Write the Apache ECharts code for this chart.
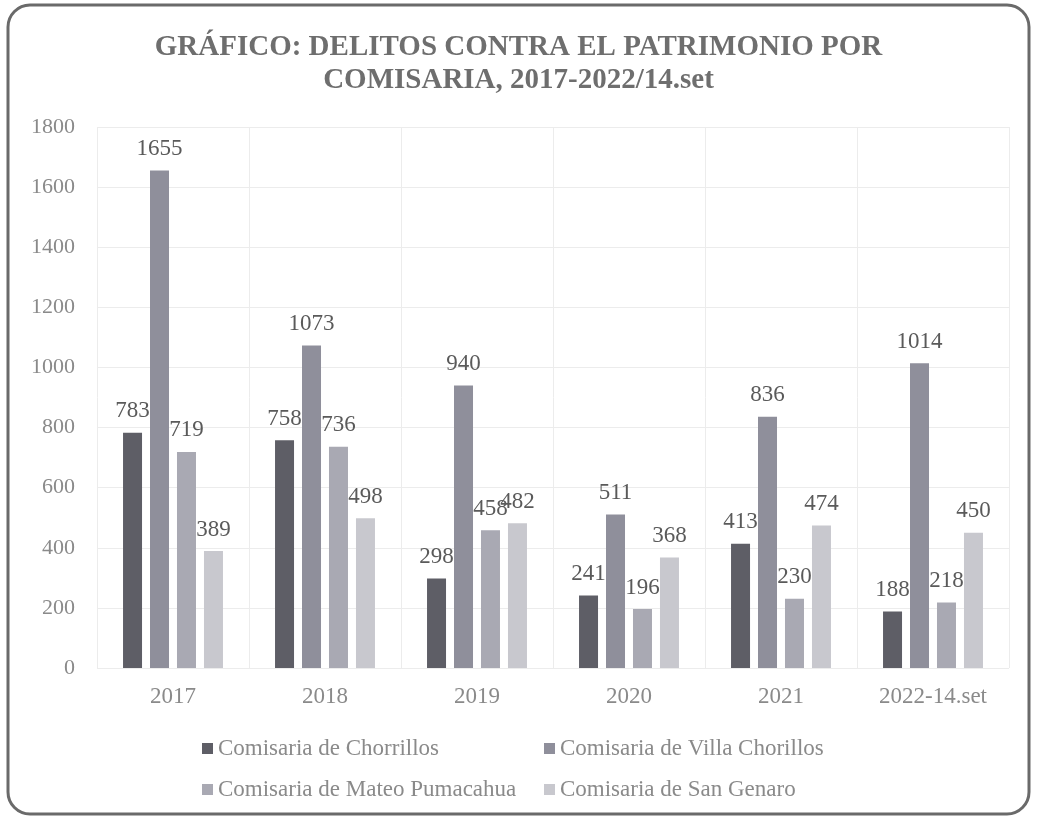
<!DOCTYPE html>
<html>
<head>
<meta charset="utf-8">
<script src="https://cdn.jsdelivr.net/npm/echarts@6/dist/echarts.min.js"></script>
<style>
  html, body { margin: 0; padding: 0; background: #ffffff; }
  #chart { width: 1037px; height: 819px; }
</style>
</head>
<body>
<div id="chart"></div>
<script>
// Delitos contra el patrimonio por comisaría, 2017 – 2022 (hasta el 14 de setiembre)
const years = ['2017', '2018', '2019', '2020', '2021', '2022-14.set'];
const seriesNames = [
  'Comisaria de Chorrillos',
  'Comisaria de Villa Chorillos',
  'Comisaria de Mateo Pumacahua',
  'Comisaria de San Genaro'
];
const chorrillos = [783, 758, 298, 241, 413, 188];
const villaChorrillos = [1655, 1073, 940, 511, 836, 1014];
const mateoPumacahua = [719, 736, 458, 196, 230, 218];
const sanGenaro = [389, 498, 482, 368, 474, 450];
const yTicks = { min: 0, max: 1800, step: 200 };

const serif = '"Liberation Serif", "DejaVu Serif", serif';
const colors = ['#5e5e66', '#8f8f9b', '#a9a9b3', '#c8c8ce'];
const values = [chorrillos, villaChorrillos, mateoPumacahua, sanGenaro];

const chart = echarts.init(document.getElementById('chart'), null, { renderer: 'canvas' });

const series = seriesNames.map((name, i) => ({
  name: name,
  type: 'bar',
  data: values[i],
  barWidth: 19,
  barGap: '42%',
  itemStyle: { color: colors[i] },
  label: {
    show: true,
    position: 'top',
    distance: 10,
    fontFamily: serif,
    fontSize: 23,
    color: '#5a5a5a'
  }
}));

const legendText = { fontFamily: serif, fontSize: 23, color: '#8a8a8a' };

chart.setOption({
  backgroundColor: '#ffffff',
  animation: false,
  color: colors,
  title: {
    text: 'GRÁFICO: DELITOS CONTRA EL PATRIMONIO POR\nCOMISARIA, 2017-2022/14.set',
    left: 'center',
    top: 26,
    textStyle: {
      fontFamily: serif,
      fontWeight: 'bold',
      fontSize: 29,
      lineHeight: 33,
      color: '#6e6e6e',
      align: 'center'
    }
  },
  graphic: [{
    type: 'rect',
    shape: { x: 8, y: 5, width: 1021, height: 809, r: 22 },
    style: { fill: 'none', stroke: '#6a6a6a', lineWidth: 3 },
    silent: true,
    z: 100
  }],
  legend: [
    {
      data: [seriesNames[0], seriesNames[2]],
      orient: 'vertical',
      left: 197,
      top: 732,
      itemGap: 18,
      itemWidth: 11,
      itemHeight: 11,
      icon: 'rect',
      textStyle: legendText
    },
    {
      data: [seriesNames[1], seriesNames[3]],
      orient: 'vertical',
      left: 539,
      top: 732,
      itemGap: 18,
      itemWidth: 11,
      itemHeight: 11,
      icon: 'rect',
      textStyle: legendText
    }
  ],
  grid: {
    left: 97,
    right: 28,
    top: 127,
    bottom: 151,
    containLabel: false
  },
  xAxis: {
    type: 'category',
    data: years,
    axisLine: { show: false },
    axisTick: { show: false },
    splitLine: { show: true, lineStyle: { color: '#ececec', width: 1 } },
    axisLabel: {
      fontFamily: serif,
      fontSize: 23,
      color: '#8a8a8a',
      margin: 17
    }
  },
  yAxis: {
    type: 'value',
    min: yTicks.min,
    max: yTicks.max,
    interval: yTicks.step,
    axisLine: { show: false },
    axisTick: { show: false },
    splitLine: { lineStyle: { color: '#ececec', width: 1 } },
    axisLabel: {
      fontFamily: serif,
      fontSize: 22,
      color: '#8a8a8a',
      margin: 22,
      formatter: (v) => String(v)
    }
  },
  series: series
});
</script>
</body>
</html>
